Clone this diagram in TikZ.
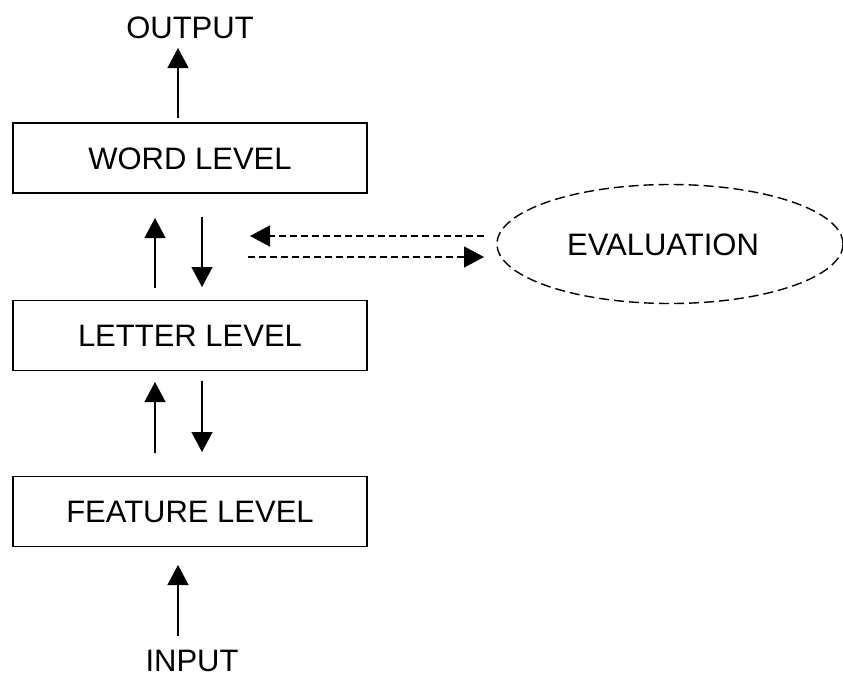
\documentclass[tikz,border=0pt]{standalone}
\usepackage{fontspec}
\setmainfont{Liberation Sans}
\usetikzlibrary{arrows.meta,shapes.geometric}
\begin{document}
\begin{tikzpicture}[x=1pt,y=-1pt,
  lvl/.style={draw,line width=1.4pt,minimum width=354pt,minimum height=70pt,inner sep=0pt,
    text height=22.2pt,text depth=0pt,font=\fontsize{31}{37}\selectfont},
  lbl/.style={inner sep=0pt,anchor=base,font=\fontsize{31}{37}\selectfont},
  evalnode/.style={draw,ellipse,dash pattern=on 10pt off 5pt,line width=1.4pt,
    minimum width=346pt,minimum height=119pt,inner sep=0pt,
    text height=22.2pt,text depth=0pt,font=\fontsize{31}{37}\selectfont},
  arr/.style={line width=1.3pt,-{Triangle[length=20pt,width=21pt]}},
  darr/.style={arr,line width=1.5pt,dash pattern=on 7pt off 4pt}]
\useasboundingbox (0,0) rectangle (843,675);
\fill[white] (0,0) rectangle (843,675);
% nodes
\node[lbl] (output) at (190,38) {OUTPUT};
\node[lvl] (word) at (190,158) {WORD LEVEL};
\node[lvl] (letter) at (190,335.5) {LETTER LEVEL};
\node[lvl] (feature) at (190,511.5) {FEATURE LEVEL};
\node[lbl] (input) at (192,671) {INPUT};
\node[evalnode] (eval) at (670,244) {\hspace*{-14pt}EVALUATION};
% connector end points
\coordinate (w0) at (178,118);  \coordinate (o0) at (178,48);
\coordinate (lu0) at (155,288); \coordinate (wu1) at (155,218);
\coordinate (wd0) at (202,217); \coordinate (ld1) at (202,287);
\coordinate (fu0) at (155,453); \coordinate (lu1) at (155,382);
\coordinate (ld0) at (202,381); \coordinate (fd1) at (202,452);
\coordinate (i0) at (178,636);  \coordinate (f0) at (178,565);
\coordinate (e0) at (484,236);  \coordinate (m0) at (250,236);
\coordinate (m1) at (248,257);  \coordinate (e1) at (484,257);
% connectors
\draw[arr] (w0) -- (o0);
\draw[arr] (lu0) -- (wu1);
\draw[arr] (wd0) -- (ld1);
\draw[arr] (fu0) -- (lu1);
\draw[arr] (ld0) -- (fd1);
\draw[arr] (i0) -- (f0);
\draw[darr] (e0) -- (m0);
\draw[darr] (m1) -- (e1);
\end{tikzpicture}
\end{document}
